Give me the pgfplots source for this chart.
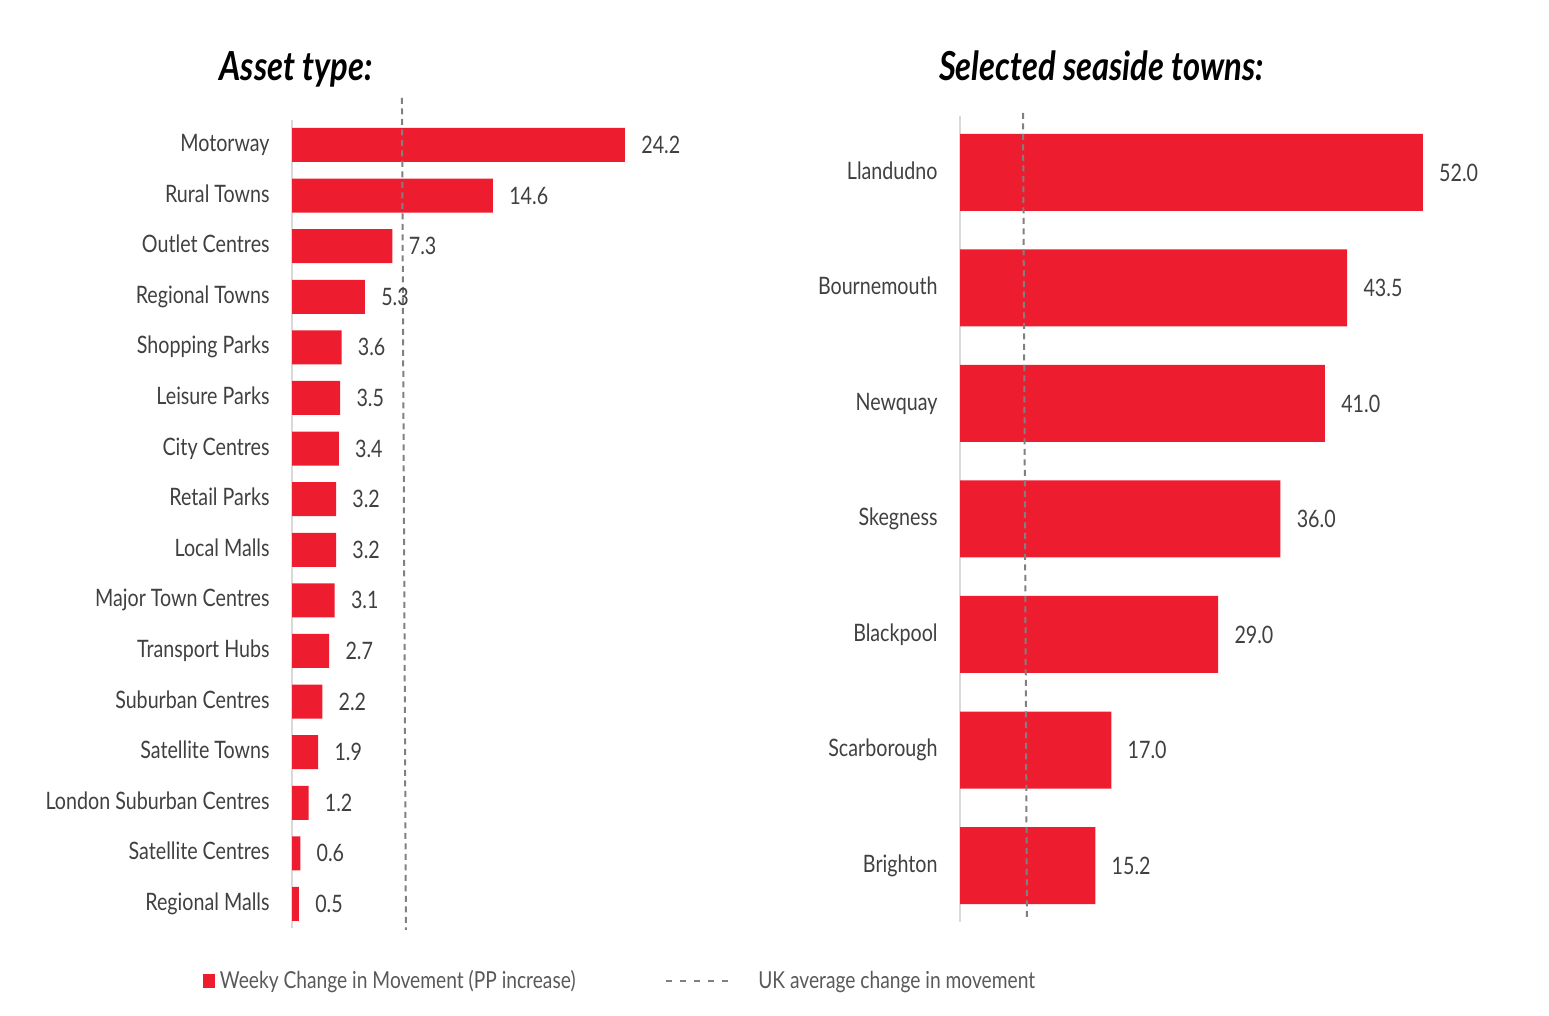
\documentclass[border=0pt]{standalone}
\usepackage{pgfplots}
\pgfplotsset{compat=1.18}
\usepackage{fontspec}
\setmainfont{Lato}[FakeStretch=0.82]
\definecolor{barred}{RGB}{237,28,46}
\definecolor{txt}{RGB}{64,64,64}
\definecolor{legtxt}{RGB}{89,89,89}
\definecolor{dashc}{RGB}{128,128,128}
\definecolor{axl}{RGB}{217,217,217}
\pgfplotsset{
  common/.style={
    scale only axis, clip=false,
    axis line style={draw=none}, tick style={draw=none},
    xtick=\empty,
    yticklabel style={font=\fontsize{12}{14}\selectfont, text=txt, inner sep=0pt, xshift=-11pt, anchor=east, text height=1.6ex, text depth=0.3ex},
    title style={font=\fontsize{20}{24}\selectfont\bfseries\itshape, anchor=base, inner sep=0pt, yshift=-6.5pt},
    /pgf/number format/fixed, /pgf/number format/fixed zerofill,
    /pgf/number format/precision=1, /pgf/number format/assume math mode=true,
  },
  barsty/.style={xbar, bar shift=0pt, fill=barred, draw=none,
    nodes near coords,
    nodes near coords style={font=\fontsize{12}{14}\selectfont, text=txt, inner sep=0pt, xshift=8pt, anchor=west},
    legend image code/.code={\fill[barred] (0pt,-3.5pt) rectangle (6pt,3.5pt); \path (8.5pt,0pt);}},
  dashsty/.style={dashc, line width=1pt, dash pattern=on 3pt off 2.25pt,
    legend image code/.code={\draw[dashc, line width=0.8pt, dash pattern=on 3pt off 4pt] (0pt,0pt) -- (32pt,0pt); \path (45.5pt,0pt);}},
}
\begin{document}
\begin{tikzpicture}
\path[use as bounding box] (0,0) rectangle (774.5pt,508pt);
% Left: asset type
\begin{axis}[common,
  at={(249.2pt,251pt)}, anchor=center,
  width=206.4pt, height=416pt,
  xmin=0, xmax=30, ymin=-15.514, ymax=0.929,
  ytick={-15,-14,...,0},
  yticklabels={Regional Malls, Satellite Centres, London Suburban Centres, Satellite Towns, Suburban Centres, Transport Hubs, Major Town Centres, Local Malls, Retail Parks, City Centres, Leisure Parks, Shopping Parks, Regional Towns, Outlet Centres, Rural Towns, Motorway},
  title={Asset type:},
  title style={at={(0.0097,1.0228)}},
  legend columns=2,
  legend style={at={(-0.2156,-0.0613)}, anchor=west, draw=none, fill=none,
    inner sep=0pt, outer sep=0pt,
    font=\fontsize{11.7}{14}\selectfont, text=legtxt,
    nodes={inner sep=0pt},
    /tikz/every odd column/.append style={column sep=0pt},
    /tikz/every even column/.append style={column sep=45pt}},
]
\addplot[axl, line width=1pt, forget plot] coordinates {(0,0.494) (0,-15.474)};
\addplot[barsty, bar width=17pt] coordinates {
 (24.2,0) (14.6,-1) (7.3,-2) (5.3,-3) (3.6,-4) (3.5,-5) (3.4,-6) (3.2,-7)
 (3.2,-8) (3.1,-9) (2.7,-10) (2.2,-11) (1.9,-12) (1.2,-13) (0.6,-14) (0.5,-15)};
\addplot[dashsty] coordinates {(7.99,0.929) (8.28,-15.514)};
\legend{Weeky Change in Movement (PP increase), UK average change in movement}
\end{axis}
% Right: seaside towns
\begin{axis}[common,
  at={(613.5pt,249.25pt)}, anchor=center,
  width=267pt, height=404.5pt,
  xmin=0, xmax=60, ymin=-6.489, ymax=0.515,
  ytick={-6,-5,...,0},
  yticklabels={Brighton, Scarborough, Blackpool, Skegness, Newquay, Bournemouth, Llandudno},
  title={Selected seaside towns:},
  title style={at={(0.265,1.0408)}},
]
\addplot[axl, line width=1pt, forget plot] coordinates {(0,0.489) (0,-6.489)};
\addplot[barsty, bar width=38.5pt] coordinates {
 (52.0,0) (43.5,-1) (41.0,-2) (36.0,-3) (29.0,-4) (17.0,-5) (15.2,-6)};
\addplot[dashsty] coordinates {(7.08,0.515) (7.52,-6.455)};
\end{axis}
\end{tikzpicture}
\end{document}
